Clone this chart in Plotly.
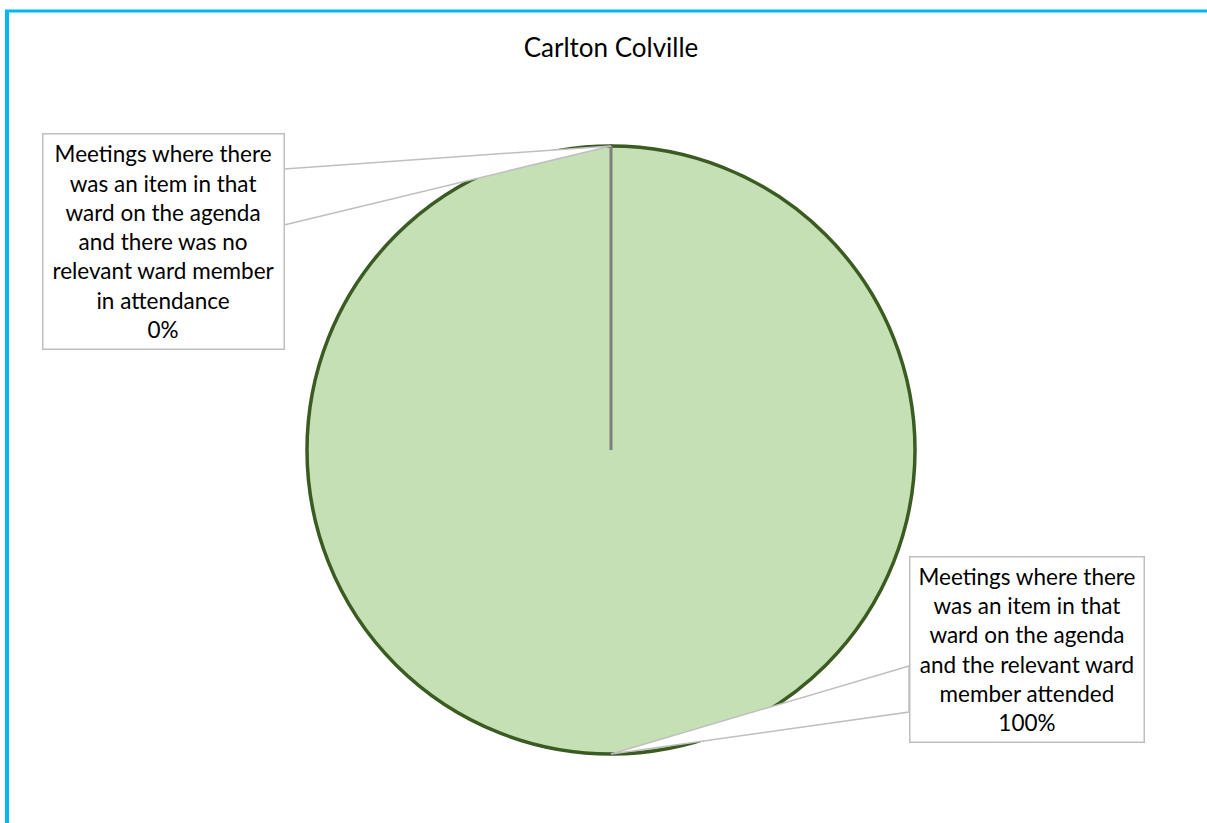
import plotly.graph_objects as go

# ---- data ----
title = "Carlton Colville"
labels = [
    "Meetings where there was an item in that ward on the agenda and there was no relevant ward member in attendance",
    "Meetings where there was an item in that ward on the agenda and the relevant ward member attended",
]
label_lines = [
    ["Meetings where there", "was an item in that", "ward on the agenda", "and there was no",
     "relevant ward member", "in attendance"],
    ["Meetings where there", "was an item in that", "ward on the agenda",
     "and the relevant ward", "member attended"],
]
values = [0, 100]
slice_colors = ["#A9D18E", "#C5E0B4"]
slice_lines = ["#7F7F7F", "#3A5B22"]

W, H = 1207, 823
FONT = "Lato"

def px(x):
    return x / W

def py(y):
    return 1 - y / H

# pie geometry (pixels in window)
cx, cy, r = 611, 450, 304
dom_x = [px(cx - r), px(cx + r)]
dom_y = [py(cy + r), py(cy - r)]

total = sum(values)
pcts = [f"{round(v / total * 100)}%" for v in values]

fig = go.Figure(go.Pie(
    labels=labels,
    values=values,
    sort=False,
    direction="clockwise",
    rotation=0,
    marker=dict(colors=slice_colors, line=dict(color=slice_lines, width=3.5)),
    textinfo="none",
    hoverinfo="label+percent",
    showlegend=False,
    domain=dict(x=dom_x, y=dom_y),
))

shapes = []
# slice boundary of the 0% slice (center -> 12 o'clock)
shapes.append(dict(type="line", xref="paper", yref="paper",
                   x0=px(cx), y0=py(cy), x1=px(cx), y1=py(cy - r),
                   line=dict(color="#7F7F7F", width=3), layer="above"))

# callout boxes (pixels) and their pointer wedges
boxes = [
    dict(x0=42, x1=284, y0=134, y1=350, tip=(cx, cy - r), base=[(284, 169), (284, 225)]),
    dict(x0=909, x1=1144, y0=556, y1=742, tip=(cx, cy + r), base=[(909, 666), (909, 712)]),
]
annotations = []
for b, lines, pct in zip(boxes, label_lines, pcts):
    (bx1, by1), (bx2, by2) = b["base"]
    tx, ty = b["tip"]
    path = f"M {px(bx1)},{py(by1)} L {px(tx)},{py(ty)} L {px(bx2)},{py(by2)} Z"
    shapes.append(dict(type="path", xref="paper", yref="paper", path=path,
                       fillcolor="white", line=dict(color="#BFBFBF", width=1.5),
                       layer="above"))
    annotations.append(dict(
        xref="paper", yref="paper",
        x=px((b["x0"] + b["x1"]) / 2), y=py((b["y0"] + b["y1"]) / 2),
        xanchor="center", yanchor="middle",
        text="<br>".join(lines + [pct]),
        showarrow=False, align="center", valign="middle",
        width=b["x1"] - b["x0"] - 2, height=b["y1"] - b["y0"] - 2,
        bgcolor="white", bordercolor="#BFBFBF", borderwidth=1.5, borderpad=0,
        font=dict(family=FONT, size=22.5, color="#000000"),
    ))

# outer frame (blue)
shapes.append(dict(type="line", xref="paper", yref="paper",
                   x0=px(7), x1=px(7), y0=py(10), y1=0,
                   line=dict(color="#00B8F2", width=4)))
shapes.append(dict(type="line", xref="paper", yref="paper",
                   x0=px(5), x1=1, y0=py(11), y1=py(11),
                   line=dict(color="#00B8F2", width=3)))

fig.update_layout(
    width=W, height=H,
    margin=dict(l=0, r=0, t=0, b=0),
    paper_bgcolor="white",
    plot_bgcolor="white",
    title=dict(text=title, x=px(611), xanchor="center", y=py(48), yanchor="middle",
               font=dict(family=FONT, size=26, color="#000000")),
    shapes=shapes,
    annotations=annotations,
)

fig.write_html(
    "out.html",
    config={"displayModeBar": False},
    post_script="document.body.style.margin='0';document.body.style.overflow='hidden';",
)
